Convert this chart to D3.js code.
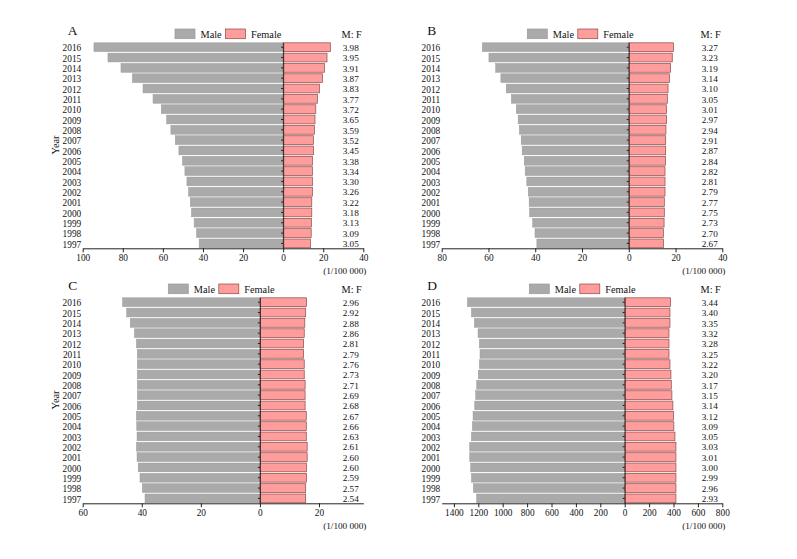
<!DOCTYPE html>
<html>
<head>
<meta charset="utf-8">
<script src="https://cdn.jsdelivr.net/npm/d3@7"></script>
<style>
body { margin: 0; background: #fff; }
text { font-family: "Liberation Serif", "Times New Roman", serif; fill: #111; }
</style>
</head>
<body>
<div id="chart"></div>
<script>
// years, top row first
var years = ['2016', '2015', '2014', '2013', '2012', '2011', '2010', '2009', '2008', '2007',
    '2006', '2005', '2004', '2003', '2002', '2001', '2000', '1999', '1998', '1997']

var maleA = [94.4, 87.4, 80.9, 75.2, 69.9, 64.9, 60.8, 58.1, 56.0, 53.8, 52.0, 50.2, 49.0, 48.0, 47.2, 46.3, 45.7, 44.4, 43.2, 41.9]
var femaleA = [23.6, 21.9, 20.6, 19.6, 18.1, 17.1, 16.3, 15.9, 15.6, 15.1, 15.1, 14.6, 14.6, 14.6, 14.6, 14.3, 14.3, 14.1, 14.0, 13.6]
var ratioA = ['3.98', '3.95', '3.91', '3.87', '3.83', '3.77', '3.72', '3.65', '3.59', '3.52', '3.45', '3.38', '3.34', '3.30', '3.26', '3.22', '3.18', '3.13', '3.09', '3.05']

var maleB = [62.6, 59.8, 56.9, 54.7, 52.4, 50.2, 48.1, 47.3, 46.8, 46.0, 45.6, 44.7, 44.3, 43.6, 43.0, 42.6, 42.4, 41.1, 40.1, 39.3]
var femaleB = [19.1, 18.6, 17.9, 17.4, 16.8, 16.5, 16.1, 16.1, 15.9, 15.8, 15.8, 15.7, 15.5, 15.5, 15.5, 15.2, 15.2, 15.1, 14.8, 14.8]
var ratioB = ['3.27', '3.23', '3.19', '3.14', '3.10', '3.05', '3.01', '2.97', '2.94', '2.91', '2.87', '2.84', '2.82', '2.81', '2.79', '2.77', '2.75', '2.73', '2.70', '2.67']

var maleC = [46.5, 45.1, 43.9, 42.5, 41.8, 41.5, 41.5, 41.5, 41.5, 41.5, 41.5, 41.8, 41.7, 41.6, 41.8, 41.6, 41.2, 40.6, 39.8, 38.9]
var femaleC = [15.8, 15.5, 15.2, 15.0, 14.8, 14.8, 15.0, 15.0, 15.3, 15.3, 15.3, 15.7, 15.7, 15.7, 16.0, 16.0, 15.8, 15.8, 15.5, 15.5]
var ratioC = ['2.96', '2.92', '2.88', '2.86', '2.81', '2.79', '2.76', '2.73', '2.71', '2.69', '2.68', '2.67', '2.66', '2.63', '2.61', '2.60', '2.60', '2.59', '2.57', '2.54']

var maleD = [1289, 1256, 1232, 1202, 1191, 1186, 1191, 1200, 1213, 1221, 1229, 1243, 1248, 1256, 1270, 1270, 1262, 1256, 1240, 1213]
var femaleD = [376, 371, 371, 363, 363, 363, 371, 379, 382, 387, 395, 401, 403, 412, 420, 420, 420, 420, 420, 420]
var ratioD = ['3.44', '3.40', '3.35', '3.32', '3.28', '3.25', '3.22', '3.20', '3.17', '3.15', '3.14', '3.12', '3.09', '3.05', '3.03', '3.01', '3.00', '2.99', '2.96', '2.93']

var panels = [
    {name: 'A', male: maleA, female: femaleA, ratio: ratioA, domain: [-100, 40], ticks: d3.range(-100, 41, 20),
        x0: 82.7, y0: 0, letterX: 67.7, legendX: 175, yearLabel: true},
    {name: 'B', male: maleB, female: femaleB, ratio: ratioB, domain: [-80, 40], ticks: d3.range(-80, 41, 20),
        x0: 441.7, y0: 0, letterX: 427.3, legendX: 527.3, yearLabel: false},
    {name: 'C', male: maleC, female: femaleC, ratio: ratioC, domain: [-60, 35], ticks: d3.range(-60, 21, 20),
        x0: 82.7, y0: 255, letterX: 68.3, legendX: 168.3, yearLabel: true},
    {name: 'D', male: maleD, female: femaleD, ratio: ratioD, domain: [-1500, 800], ticks: d3.range(-1400, 801, 200),
        x0: 441.7, y0: 255, letterX: 427.3, legendX: 529.3, yearLabel: false}
]

var plotW = 280.6
var maleColor = '#aaaaaa'
var femaleColor = '#ff9c9c'

var svg = d3.select('#chart').append('svg')
    .attr('width', 797)
    .attr('height', 559)

svg.append('rect').attr('width', 797).attr('height', 559).attr('fill', '#fff')

panels.forEach(function (p) {
    var g = svg.append('g').attr('transform', 'translate(0,' + p.y0 + ')')

    var x = d3.scaleLinear()
        .domain(p.domain)
        .range([p.x0, p.x0 + plotW])

    var y = d3.scaleBand()
        .domain(years)
        .range([42.3, 248.3])
        .paddingInner(0.15)
        .paddingOuter(0.05)

    // male bars go left of zero
    g.selectAll('rect.male')
        .data(years)
        .enter()
        .append('rect')
        .attr('class', 'male')
        .attr('x', (d, i) => x(-p.male[i]))
        .attr('y', (d) => y(d))
        .attr('width', (d, i) => x(0) - x(-p.male[i]))
        .attr('height', y.bandwidth())
        .attr('fill', maleColor)
        .attr('stroke', '#9a9a9a')
        .attr('stroke-width', 0.5)

    g.selectAll('rect.female')
        .data(years)
        .enter()
        .append('rect')
        .attr('class', 'female')
        .attr('x', x(0))
        .attr('y', (d) => y(d))
        .attr('width', (d, i) => x(p.female[i]) - x(0))
        .attr('height', y.bandwidth())
        .attr('fill', femaleColor)
        .attr('stroke', '#8c4a4a')
        .attr('stroke-width', 0.7)

    // zero line with small ticks
    var zeroAxis = g.append('g')
        .attr('transform', 'translate(' + x(0) + ',0)')
        .call(d3.axisLeft(y).tickSize(2).tickSizeOuter(0).tickFormat(''))
    zeroAxis.select('.domain').attr('stroke', '#222').attr('stroke-width', 0.9)
    zeroAxis.selectAll('.tick line').attr('stroke', '#222')

    // year labels
    g.selectAll('text.year')
        .data(years)
        .enter()
        .append('text')
        .attr('class', 'year')
        .attr('x', p.x0 - 1.5)
        .attr('y', (d) => y(d) + y.bandwidth() / 2 + 1)
        .attr('dy', '0.35em')
        .attr('text-anchor', 'end')
        .attr('font-size', 9.3)
        .text((d) => d)

    // M:F column
    g.selectAll('text.ratio')
        .data(p.ratio)
        .enter()
        .append('text')
        .attr('class', 'ratio')
        .attr('x', p.x0 + 268)
        .attr('y', (d, i) => y(years[i]) + y.bandwidth() / 2 + 0.5)
        .attr('dy', '0.35em')
        .attr('text-anchor', 'middle')
        .attr('font-size', 9.2)
        .text((d) => d)

    g.append('text')
        .attr('x', p.x0 + 269)
        .attr('y', 38)
        .attr('text-anchor', 'middle')
        .attr('font-size', 10.3)
        .text('M: F')

    // bottom axis
    var xAxis = g.append('g')
        .attr('transform', 'translate(0,248.3)')
        .call(d3.axisBottom(x).tickValues(p.ticks).tickSize(4).tickSizeOuter(0)
            .tickFormat((d) => Math.abs(d)))
    xAxis.select('.domain').attr('stroke', '#222')
    xAxis.selectAll('.tick line').attr('stroke', '#222')
    xAxis.selectAll('.tick text')
        .attr('font-size', 9.3)
        .attr('font-family', '"Liberation Serif", serif')
        .attr('fill', '#111')
        .attr('dy', '0.6em')

    g.append('text')
        .attr('x', p.x0 + plotW + 3)
        .attr('y', 274)
        .attr('text-anchor', 'end')
        .attr('font-size', 9.2)
        .text('(1/100 000)')

    // panel letter
    g.append('text')
        .attr('x', p.letterX)
        .attr('y', 35)
        .attr('font-size', 13.5)
        .text(p.name)

    if (p.yearLabel) {
        g.append('text')
            .attr('transform', 'translate(58.5,145) rotate(-90)')
            .attr('text-anchor', 'middle')
            .attr('font-size', 10.3)
            .text('Year')
    }

    // legend
    var legend = [{label: 'Male', color: maleColor, stroke: '#9a9a9a'},
        {label: 'Female', color: femaleColor, stroke: '#8c4a4a'}]
    var lg = g.selectAll('g.legend')
        .data(legend)
        .enter()
        .append('g')
        .attr('class', 'legend')
        .attr('transform', (d, i) => 'translate(' + (p.legendX + i * 50.5) + ',29)')
    lg.append('rect')
        .attr('width', 20)
        .attr('height', 9.7)
        .attr('fill', (d) => d.color)
        .attr('stroke', (d) => d.stroke)
        .attr('stroke-width', 0.7)
    lg.append('text')
        .attr('x', 25.5)
        .attr('y', 8.8)
        .attr('font-size', 10.3)
        .text((d) => d.label)
})
</script>
</body>
</html>
